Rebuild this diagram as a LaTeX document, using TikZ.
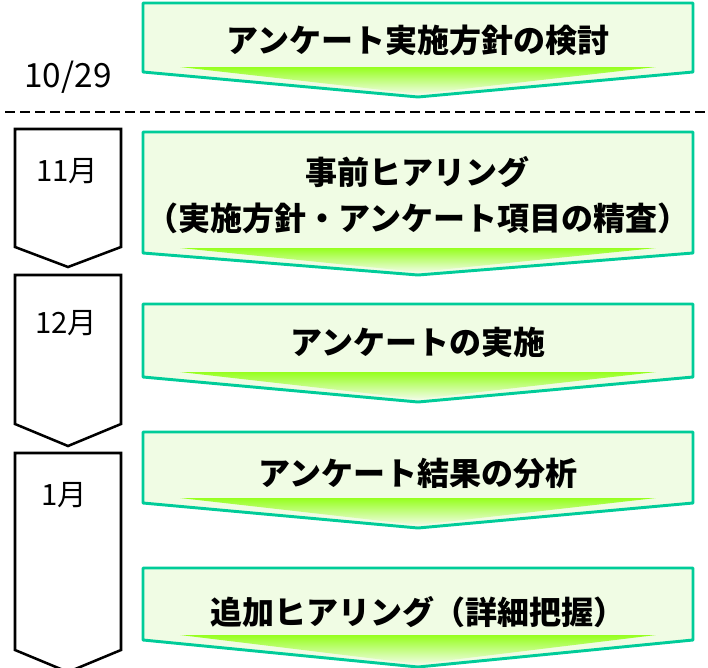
\documentclass[tikz,border=0pt]{standalone}
\usepackage{fontspec}
\setmainfont{Noto Sans CJK JP}
\definecolor{boxline}{RGB}{0,204,153}
\definecolor{boxfill}{RGB}{240,252,228}
\definecolor{arrowgreen}{RGB}{150,255,30}
\begin{document}
\begin{tikzpicture}[x=0.75pt,y=-0.75pt,
	stepbox/.style={draw=boxline,fill=boxfill,line width=2.2pt,line join=round},
	stepshade/.style={top color=arrowgreen,middle color=arrowgreen!85!boxfill,bottom color=boxfill},
	monthbox/.style={draw=black,fill=white,line width=1.9pt,line join=miter},
	steptext/.style={font=\bfseries\fontsize{24}{34}\selectfont,align=center,inner sep=0pt},
	monthtext/.style={font=\fontsize{22}{26}\selectfont,inner sep=0pt}]
	\useasboundingbox (0,0) rectangle (708,668);
	% steps
	\draw[stepbox] (143,3) -- (693,3) -- (693,72) -- (418,97) -- (143,72) -- cycle;
	\shade[stepshade] (180,67) -- (656,67) -- (418,94) -- cycle;
	\draw[stepbox] (143,132) -- (693,132) -- (693,253) -- (418,275) -- (143,253) -- cycle;
	\shade[stepshade] (180,248) -- (656,248) -- (418,272) -- cycle;
	\draw[stepbox] (143,304) -- (693,304) -- (693,377) -- (418,402) -- (143,377) -- cycle;
	\shade[stepshade] (180,372) -- (656,372) -- (418,399) -- cycle;
	\draw[stepbox] (143,432) -- (693,432) -- (693,503) -- (418,528) -- (143,503) -- cycle;
	\shade[stepshade] (180,498) -- (656,498) -- (418,525) -- cycle;
	\draw[stepbox] (143,568) -- (693,568) -- (693,640) -- (418,667) -- (143,640) -- cycle;
	\shade[stepshade] (180,635) -- (656,635) -- (418,664) -- cycle;
	\node[steptext] (plan) at (418,40) {アンケート実施方針の検討};
	\node[steptext] (prehear) at (418,195) {事前ヒアリング\\（実施方針・アンケート項目の精査）};
	\node[steptext] (survey) at (418,342) {アンケートの実施};
	\node[steptext] (analysis) at (418,473) {アンケート結果の分析};
	\node[steptext] (addhear) at (418,612) {追加ヒアリング（詳細把握）};
	% date and separator
	\node[monthtext,font=\fontsize{25}{28}\selectfont] (date) at (68,77) {10/29};
	\draw[line width=2.1pt,dash pattern=on 7.5pt off 3.75pt] (5,112) -- (708,112);
	% months
	\draw[monthbox] (15,129) -- (121,129) -- (121,247) -- (68,267) -- (15,247) -- cycle;
	\draw[monthbox] (15,275) -- (121,275) -- (121,424) -- (68,446) -- (15,424) -- cycle;
	\draw[monthbox] (15,453) -- (121,453) -- (121,650) -- (68,672) -- (15,650) -- cycle;
	\node[monthtext] (nov) at (67,171) {11月};
	\node[monthtext] (dec) at (66,323) {12月};
	\node[monthtext] (jan) at (64,495) {1月};
\end{tikzpicture}
\end{document}
